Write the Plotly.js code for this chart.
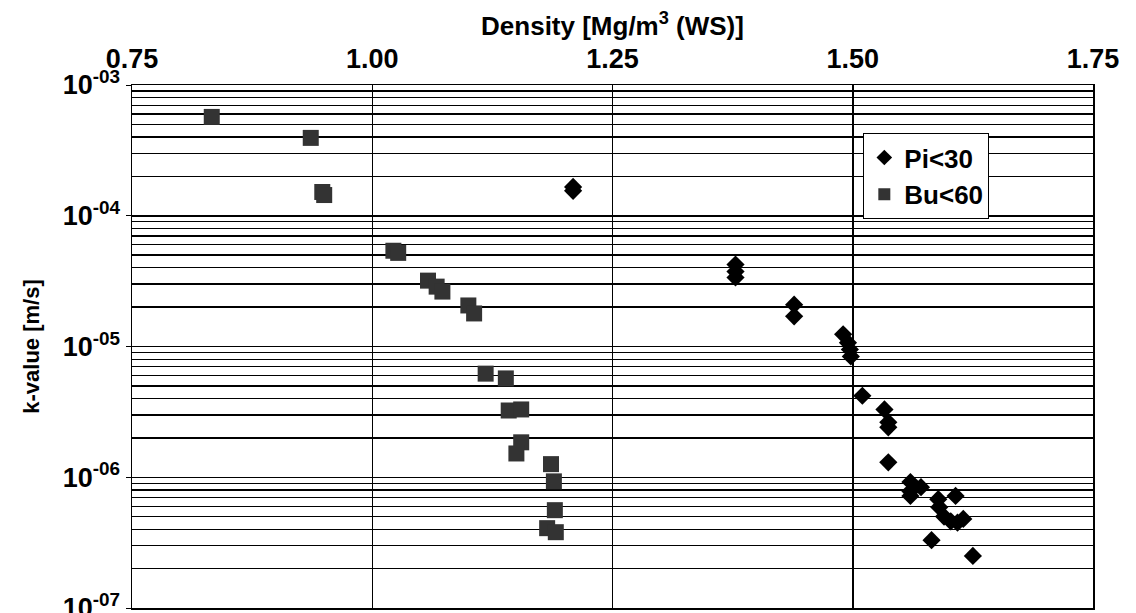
<!DOCTYPE html>
<html>
<head>
<meta charset="utf-8">
<script src="https://cdn.plot.ly/plotly-3.0.1.min.js"></script>
<style>html,body{margin:0;padding:0;background:#fff;}#chart{width:1136px;height:613px;}</style>
</head>
<body>
<div id="chart"></div>
<script>
// Pi<30 series (diamonds)
const piDensity = [1.209, 1.209, 1.378, 1.378, 1.378, 1.439, 1.439, 1.490, 1.495, 1.497, 1.498, 1.510, 1.533, 1.537, 1.537, 1.537, 1.560, 1.560, 1.571, 1.560, 1.589, 1.607, 1.590, 1.595, 1.602, 1.615, 1.609, 1.582, 1.625];
const piK = [1.66e-4, 1.55e-4, 4.23e-5, 3.74e-5, 3.37e-5, 2.09e-5, 1.7e-5, 1.24e-5, 1.07e-5, 9.5e-6, 8.4e-6, 4.2e-6, 3.3e-6, 2.63e-6, 2.41e-6, 1.3e-6, 9.2e-7, 7.8e-7, 8.4e-7, 7.2e-7, 6.8e-7, 7.2e-7, 5.9e-7, 5.0e-7, 4.6e-7, 4.8e-7, 4.5e-7, 3.3e-7, 2.5e-7];
// Bu<60 series (squares)
const buDensity = [0.833, 0.936, 0.948, 0.950, 1.022, 1.027, 1.058, 1.067, 1.073, 1.100, 1.106, 1.118, 1.139, 1.142, 1.155, 1.155, 1.150, 1.186, 1.189, 1.190, 1.182, 1.191];
const buK = [5.7e-4, 3.94e-4, 1.52e-4, 1.44e-4, 5.4e-5, 5.2e-5, 3.19e-5, 2.87e-5, 2.63e-5, 2.06e-5, 1.79e-5, 6.2e-6, 5.7e-6, 3.24e-6, 3.3e-6, 1.85e-6, 1.52e-6, 1.26e-6, 9.3e-7, 5.6e-7, 4.08e-7, 3.8e-7];

const seriesNames = ['Pi<30', 'Bu<60'];
const xTickVals = [0.75, 1.00, 1.25, 1.50, 1.75];
const xTickText = ['0.75', '1.00', '1.25', '1.50', '1.75'];
const yTickVals = [1e-7, 1e-6, 1e-5, 1e-4, 1e-3];
const yTickText = ['10<sup>-07</sup>', '10<sup>-06</sup>', '10<sup>-05</sup>', '10<sup>-04</sup>', '10<sup>-03</sup>'];
const yExponents = [-7, -6, -5, -4];
const yMinorDigits = [2, 3, 4, 5, 6, 7, 8, 9];

const yMinorVals = [];
yExponents.forEach(e => yMinorDigits.forEach(d => yMinorVals.push(d * Math.pow(10, e))));

const FONT = 'Liberation Sans, Arial, Helvetica, sans-serif';

const traces = [
  {
    x: piDensity, y: piK, name: seriesNames[0], type: 'scatter', mode: 'markers',
    marker: {symbol: 'diamond', size: 14, color: '#000000'}
  },
  {
    x: buDensity, y: buK, name: seriesNames[1], type: 'scatter', mode: 'markers',
    marker: {symbol: 'square', size: 16, color: '#333333'}
  }
];

const layout = {
  width: 1136, height: 613,
  paper_bgcolor: '#ffffff', plot_bgcolor: '#ffffff',
  margin: {l: 132, r: 43, t: 85, b: 5},
  font: {family: FONT, color: '#000000', size: 24, weight: 'bold'},
  showlegend: true,
  legend: {
    x: 0.761, y: 0.908, xanchor: 'left', yanchor: 'top',
    bgcolor: '#ffffff', bordercolor: '#000000', borderwidth: 1,
    font: {family: FONT, size: 26, color: '#000000', weight: 'bold'},
    itemsizing: 'constant', tracegroupgap: 0
  },
  xaxis: {
    side: 'top', range: [0.75, 1.75], tickmode: 'array',
    tickvals: xTickVals, ticktext: xTickText,
    showgrid: true, gridcolor: '#000000', gridwidth: 1.5,
    showline: true, linecolor: '#000000', linewidth: 1.5, mirror: true,
    ticks: 'outside', ticklen: 5, tickcolor: 'rgba(0,0,0,0)', zeroline: false,
    tickfont: {family: FONT, size: 27, weight: 'bold'},
    title: {text: 'Density [Mg/m<sup>3</sup> (WS)]', font: {family: FONT, size: 26, weight: 'bold'}, standoff: 0}
  },
  yaxis: {
    type: 'log', range: [-7, -3], tickmode: 'array',
    tickvals: yTickVals, ticktext: yTickText,
    showgrid: true, gridcolor: '#000000', gridwidth: 1.5,
    showline: true, linecolor: '#000000', linewidth: 1.5, mirror: true,
    ticks: 'outside', ticklen: 5, tickcolor: '#000000',
    ticklabeloverflow: 'allow',
    zeroline: false,
    tickfont: {family: FONT, size: 27, weight: 'bold'},
    minor: {tickmode: 'array', tickvals: yMinorVals, showgrid: true, gridcolor: '#000000', gridwidth: 1.3, ticks: ''},
    title: {text: 'k-value [m/s]', font: {family: FONT, size: 22, weight: 'bold'}, standoff: 17}
  }
};

Plotly.newPlot('chart', traces, layout, {displayModeBar: false, staticPlot: true});
</script>
</body>
</html>
